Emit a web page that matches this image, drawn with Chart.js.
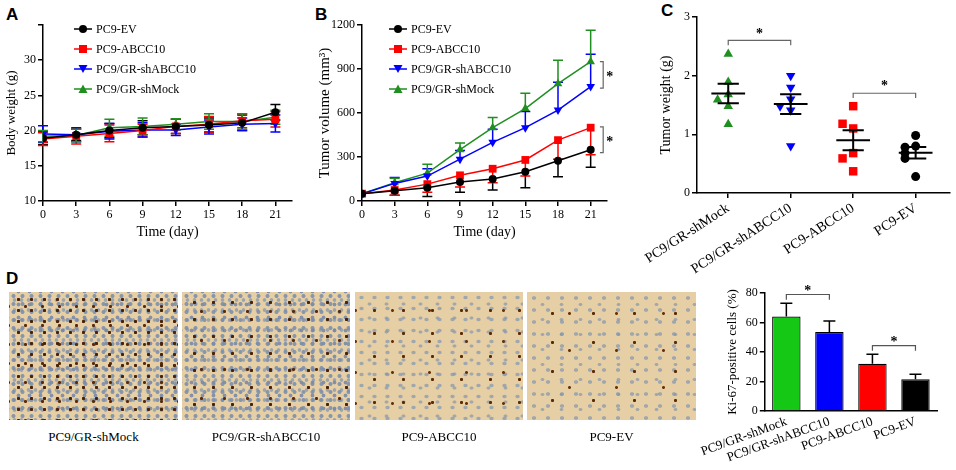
<!DOCTYPE html>
<html lang="en">
<head>
    <meta charset="UTF-8">
    <title>ABCC10 xenograft figure</title>
    <script src="https://cdn.jsdelivr.net/npm/chart.js"></script>
    <style>
        body {
            margin: 0;
            width: 956px;
            height: 470px;
            background: #fff;
            position: relative;
            overflow: hidden;
            font-family: 'Liberation Serif', 'Times New Roman', serif;
        }
        .panel { position: absolute; }
        .letter {
            position: absolute;
            font-family: 'Liberation Sans', Arial, sans-serif;
            font-weight: bold;
            font-size: 17px;
        }
        .legend {
            position: absolute;
            font-size: 12px;
            line-height: 20px;
        }
        .legend div { display: flex; align-items: center; height: 20px; }
        .legend svg { margin-right: 4px; }
        .micro {
            position: absolute;
            top: 292px;
            height: 128px;
            background-color: #e7cfa5;
        }
        .dense {
            background-image:
                radial-gradient(circle, #4a2208 1.3px, transparent 2px),
                radial-gradient(circle, #5a2a0a 1.2px, transparent 1.9px),
                radial-gradient(circle, rgba(120,140,170,.85) 1.6px, transparent 2.4px),
                radial-gradient(circle, rgba(110,130,165,.8) 1.5px, transparent 2.3px),
                radial-gradient(circle, rgba(125,145,175,.7) 1.4px, transparent 2.2px);
            background-size: 13px 11px, 17px 19px, 9px 8px, 11px 13px, 7px 10px;
            background-position: 3px 2px, 8px 5px, 0 0, 4px 6px, 2px 3px;
        }
        .sparse {
            background-image:
                radial-gradient(circle, #5a2a06 1.2px, transparent 2px),
                radial-gradient(circle, #6a3208 1.1px, transparent 1.8px),
                radial-gradient(ellipse, rgba(130,150,175,.7) 1.6px, transparent 2.6px),
                radial-gradient(ellipse, rgba(120,140,170,.6) 1.4px, transparent 2.4px);
            background-size: 29px 23px, 37px 31px, 13px 11px, 17px 14px;
            background-position: 5px 7px, 19px 3px, 0 0, 6px 5px;
        }
        .caption {
            position: absolute;
            top: 429px;
            font-size: 13px;
            text-align: center;
        }
    </style>
</head>
<body>
    <div class="letter" style="left:6px;top:5px">A</div>
    <div class="letter" style="left:315px;top:5px">B</div>
    <div class="letter" style="left:661px;top:1px">C</div>
    <div class="letter" style="left:6px;top:269px">D</div>

    <div class="panel" style="left:0;top:0;width:300px;height:245px"><canvas id="chartA"></canvas></div>
    <div class="panel" style="left:310px;top:0;width:310px;height:245px"><canvas id="chartB"></canvas></div>
    <div class="panel" style="left:630px;top:0;width:326px;height:285px"><canvas id="chartC"></canvas></div>
    <div class="panel" style="left:690px;top:270px;width:266px;height:200px"><canvas id="chartD"></canvas></div>

    <div class="legend" id="legendA" style="left:74px;top:19px"></div>
    <div class="legend" id="legendB" style="left:389px;top:19px"></div>

    <div class="micro dense" style="left:9px;width:169px"></div>
    <div class="micro dense" style="left:182px;width:168px;background-size:19px 17px,23px 29px,9px 8px,11px 13px,7px 10px"></div>
    <div class="micro sparse" style="left:355px;width:168px"></div>
    <div class="micro sparse" style="left:527px;width:169px;background-size:41px 29px,47px 37px,14px 12px,19px 15px"></div>
    <div class="caption" style="left:9px;width:169px">PC9/GR-shMock</div>
    <div class="caption" style="left:182px;width:168px">PC9/GR-shABCC10</div>
    <div class="caption" style="left:355px;width:168px">PC9-ABCC10</div>
    <div class="caption" style="left:527px;width:169px">PC9-EV</div>

    <script>
        // time axis, panels A and B
        const days = [0, 3, 6, 9, 12, 15, 18, 21];
        const seriesNames = ['PC9-EV', 'PC9-ABCC10', 'PC9/GR-shABCC10', 'PC9/GR-shMock'];

        // A: body weight (g), mean and SD
        const weightEV = [18.9, 19.4, 20.0, 20.4, 20.6, 20.8, 21.1, 22.6];
        const weightEVErr = [0.9, 0.8, 1.0, 1.0, 1.0, 1.0, 1.1, 1.1];
        const weightABCC10 = [18.8, 19.2, 19.6, 20.0, 20.6, 20.9, 21.4, 21.6];
        const weightABCC10Err = [0.9, 1.1, 1.2, 0.9, 1.0, 1.1, 1.0, 1.1];
        const weightShABCC10 = [19.5, 19.4, 19.9, 20.1, 20.1, 20.5, 20.9, 21.0];
        const weightShABCC10Err = [1.2, 1.0, 1.1, 1.0, 0.8, 1.0, 0.9, 1.2];
        const weightShMock = [19.2, 19.3, 20.4, 20.6, 20.9, 21.3, 21.3, 21.9];
        const weightShMockErr = [0.8, 0.9, 1.2, 1.2, 0.8, 1.1, 1.1, 1.0];

        // B: tumor volume (mm3)
        const volEV = [50, 70, 90, 130, 150, 200, 275, 350];
        const volEVErr = [0, 30, 60, 70, 75, 110, 110, 120];
        const volABCC10 = [50, 75, 115, 175, 220, 280, 415, 500];
        const volABCC10Err = [0, 35, 55, 80, 95, 110, 130, 185];
        const volShABCC10 = [50, 120, 170, 285, 400, 500, 620, 780];
        const volShABCC10Err = [0, 40, 50, 60, 90, 110, 190, 220];
        const volShMock = [50, 125, 190, 350, 500, 630, 800, 950];
        const volShMockErr = [0, 30, 60, 45, 70, 105, 160, 215];

        // C: tumor weight (g), one value per mouse
        const groupsC = ['PC9/GR-shMock', 'PC9/GR-shABCC10', 'PC9-ABCC10', 'PC9-EV'];
        const tumorShMock = [2.37, 1.89, 1.68, 1.59, 1.48, 1.17];
        const tumorShABCC10 = [2.0, 1.8, 1.6, 1.41, 1.48, 0.80];
        const tumorABCC10 = [1.48, 1.10, 1.18, 0.68, 0.59, 0.37];
        const tumorEV = [0.98, 0.80, 0.78, 0.68, 0.59, 0.28];

        // D: Ki-67 positive cells (%)
        const ki67 = [64, 53.5, 32, 21.5];
        const ki67Err = [9, 7.5, 6.5, 3.5];

        const serif = "'Liberation Serif', 'Times New Roman', serif";
        const GREEN = '#1f8f1f';
        const colors = ['#000000', '#ff0000', '#0000ff', GREEN];
        const shapes = ['circle', 'rect', 'triangle', 'triangle'];
        const rotations = [0, 0, 180, 0];
        const radii = { circle: 4, rect: 5.5, triangle: 5 };

        // error bars drawn through the y scale
        const errorBars = {
            id: 'errorBars',
            beforeDatasetsDraw(chart) {
                const ctx = chart.ctx;
                const yScale = chart.scales.y;
                chart.data.datasets.forEach((ds, i) => {
                    if (!ds.errors) return;
                    const meta = chart.getDatasetMeta(i);
                    meta.data.forEach((el, j) => {
                        const raw = ds.data[j];
                        const v = typeof raw === 'object' ? raw.y : raw;
                        const e = ds.errors[j];
                        if (!e) return;
                        const x = el.x;
                        const y0 = yScale.getPixelForValue(v);
                        const yHi = yScale.getPixelForValue(v + e);
                        const yLo = yScale.getPixelForValue(v - e);
                        const w = ds.capWidth || 5;
                        ctx.save();
                        ctx.strokeStyle = ds.errorColor || ds.borderColor;
                        ctx.lineWidth = 1.5;
                        ctx.beginPath();
                        ctx.moveTo(x, ds.errorDir === 'down' ? y0 : yHi);
                        ctx.lineTo(x, ds.errorDir === 'up' ? y0 : yLo);
                        if (ds.errorDir !== 'down') { ctx.moveTo(x - w, yHi); ctx.lineTo(x + w, yHi); }
                        if (ds.errorDir !== 'up') { ctx.moveTo(x - w, yLo); ctx.lineTo(x + w, yLo); }
                        ctx.stroke();
                        ctx.restore();
                    });
                });
            }
        };

        // significance brackets and stars, in data units
        const sigMarks = {
            id: 'sigMarks',
            afterDraw(chart, args, opts) {
                const ctx = chart.ctx;
                const xs = chart.scales.x, ys = chart.scales.y;
                ctx.save();
                ctx.strokeStyle = opts.color || '#555';
                ctx.lineWidth = 1.2;
                (opts.h || []).forEach(b => {
                    const x1 = xs.getPixelForValue(b.x1), x2 = xs.getPixelForValue(b.x2);
                    const y = ys.getPixelForValue(b.y), yd = ys.getPixelForValue(b.y - b.drop);
                    ctx.beginPath();
                    ctx.moveTo(x1, yd); ctx.lineTo(x1, y); ctx.lineTo(x2, y); ctx.lineTo(x2, yd);
                    ctx.stroke();
                });
                (opts.v || []).forEach(b => {
                    const x = xs.getPixelForValue(b.x), xt = xs.getPixelForValue(b.x - b.drop);
                    const y1 = ys.getPixelForValue(b.y1), y2 = ys.getPixelForValue(b.y2);
                    ctx.beginPath();
                    ctx.moveTo(xt, y1); ctx.lineTo(x, y1); ctx.lineTo(x, y2); ctx.lineTo(xt, y2);
                    ctx.stroke();
                });
                ctx.fillStyle = '#000';
                ctx.font = 'bold 14px ' + serif;
                ctx.textAlign = 'center';
                ctx.textBaseline = 'middle';
                (opts.stars || []).forEach(s => {
                    ctx.fillText('*', xs.getPixelForValue(s.x), ys.getPixelForValue(s.y) + 3);
                });
                ctx.restore();
            }
        };

        function axisBase(extra) {
            return Object.assign({
                grid: { drawOnChartArea: false, drawTicks: true, tickLength: 5, color: '#000', lineWidth: 1.5 },
                border: { color: '#000', width: 1.5 },
                ticks: { color: '#000', font: { family: serif, size: 12 }, padding: 2 }
            }, extra);
        }

        function buildLegend(id) {
            const box = document.getElementById(id);
            seriesNames.forEach((name, i) => {
                const c = colors[i];
                let mark = '';
                if (shapes[i] === 'circle') mark = `<circle cx="9" cy="6" r="4" fill="${c}"/>`;
                else if (shapes[i] === 'rect') mark = `<rect x="5" y="2" width="8" height="8" fill="${c}"/>`;
                else if (rotations[i] === 180) mark = `<polygon points="4.5,2 13.5,2 9,10" fill="${c}"/>`;
                else mark = `<polygon points="9,1.5 13.5,10 4.5,10" fill="${c}"/>`;
                const row = document.createElement('div');
                row.innerHTML = `<svg width="18" height="12"><line x1="0" y1="6" x2="18" y2="6" stroke="${c}" stroke-width="1.5"/>${mark}</svg>${name}`;
                box.appendChild(row);
            });
        }

        function timeChart(id, values, errs, errDir, yOpts, yTitle, titleSize, pad, yWidth, sig) {
            const datasets = seriesNames.map((name, i) => ({
                label: name,
                data: days.map((d, j) => ({ x: d, y: values[i][j] })),
                errors: errs[i],
                errorDir: errDir[i],
                capWidth: 5,
                borderColor: colors[i],
                backgroundColor: colors[i],
                borderWidth: 1.5,
                pointStyle: shapes[i],
                pointRotation: rotations[i],
                pointRadius: radii[shapes[i]],
                pointBorderWidth: 0,
                showLine: true,
                tension: 0
            }));
            new Chart(document.getElementById(id), {
                type: 'scatter',
                data: { datasets },
                options: {
                    responsive: true,
                    maintainAspectRatio: false,
                    animation: false,
                    layout: { padding: pad },
                    plugins: { legend: { display: false }, tooltip: { enabled: false }, sigMarks: sig },
                    scales: {
                        x: axisBase({
                            type: 'linear', min: 0, max: 22.5,
                            afterBuildTicks: s => { s.ticks = days.map(v => ({ value: v })); },
                            afterFit: s => { s.height = 44; },
                            title: { display: true, text: 'Time (day)', color: '#000', font: { family: serif, size: 14 }, padding: { top: 4 } }
                        }),
                        y: axisBase(Object.assign({
                            afterFit: s => { s.width = yWidth; },
                            title: { display: true, text: yTitle, color: '#000', font: { family: serif, size: titleSize }, padding: 0 }
                        }, yOpts))
                    }
                },
                plugins: [errorBars, sigMarks]
            });
        }

        buildLegend('legendA');
        buildLegend('legendB');

        timeChart('chartA',
            [weightEV, weightABCC10, weightShABCC10, weightShMock],
            [weightEVErr, weightABCC10Err, weightShABCC10Err, weightShMockErr],
            ['both', 'both', 'both', 'both'],
            {
                min: 10, max: 35,
                afterBuildTicks: s => { s.ticks = [10, 15, 20, 25, 30, 35].map(v => ({ value: v })); },
                ticks: { color: '#000', font: { family: serif, size: 12 }, padding: 2, callback: v => v === 35 ? '' : v }
            },
            'Body weight (g)', 13, { top: 25, right: 8, left: 4 }, 39, {});

        timeChart('chartB',
            [volEV, volABCC10, volShABCC10, volShMock],
            [volEVErr, volABCC10Err, volShABCC10Err, volShMockErr],
            ['down', 'down', 'up', 'up'],
            {
                min: 0, max: 1200,
                ticks: { color: '#000', font: { family: serif, size: 12 }, padding: 2, stepSize: 300, callback: v => String(v) }
            },
            'Tumor volume (mm\u00B3)', 15, { top: 25, right: 13, left: 6 }, 46,
            {
                color: '#666',
                v: [{ x: 22.15, drop: 0.3, y1: 950, y2: 770 }, { x: 22.15, drop: 0.3, y1: 505, y2: 330 }],
                stars: [{ x: 22.75, y: 860 }, { x: 22.75, y: 418 }]
            });

        // C: column scatter with mean +/- SEM
        const tumorGroups = [tumorShMock, tumorShABCC10, tumorABCC10, tumorEV];
        const colorsC = [GREEN, '#0000ff', '#ff0000', '#000000'];
        const shapesC = ['triangle', 'triangle', 'rect', 'circle'];
        const rotC = [0, 180, 0, 0];
        const radiiC = { circle: 4.5, rect: 6, triangle: 5.5 };

        function spread(vals, g) {
            // side-step dots that would overlap a dot already placed
            return vals.map((v, i) => {
                const hits = vals.slice(0, i).filter(w => Math.abs(w - v) < 0.105).length;
                const off = hits === 0 ? 0 : (hits % 2 ? -0.17 : 0.17);
                return { x: g + off, y: v };
            });
        }

        const statSegs = [];
        tumorGroups.forEach((vals, g) => {
            const n = vals.length;
            const m = vals.reduce((a, b) => a + b, 0) / n;
            const sd = Math.sqrt(vals.reduce((a, b) => a + (b - m) * (b - m), 0) / (n - 1));
            const se = sd / Math.sqrt(n);
            statSegs.push({ x: g - 0.27, y: m }, { x: g + 0.27, y: m }, { x: g, y: null });
            statSegs.push({ x: g - 0.17, y: m + se }, { x: g + 0.17, y: m + se }, { x: g, y: null });
            statSegs.push({ x: g - 0.17, y: m - se }, { x: g + 0.17, y: m - se }, { x: g, y: null });
            statSegs.push({ x: g, y: m - se }, { x: g, y: m + se }, { x: g, y: null });
        });

        new Chart(document.getElementById('chartC'), {
            type: 'scatter',
            data: {
                datasets: [{
                    data: statSegs,
                    showLine: true,
                    spanGaps: false,
                    borderColor: '#000',
                    borderWidth: 2,
                    pointRadius: 0
                }].concat(tumorGroups.map((vals, g) => ({
                    label: groupsC[g],
                    data: spread(vals, g),
                    backgroundColor: colorsC[g],
                    borderColor: colorsC[g],
                    pointStyle: shapesC[g],
                    pointRotation: rotC[g],
                    pointRadius: radiiC[shapesC[g]],
                    pointBorderWidth: 0
                })))
            },
            options: {
                responsive: true,
                maintainAspectRatio: false,
                animation: false,
                layout: { padding: { top: 17, right: 4, left: 28 } },
                plugins: {
                    legend: { display: false }, tooltip: { enabled: false },
                    sigMarks: {
                        color: '#666',
                        h: [{ x1: 0, x2: 1, y: 2.6, drop: 0.08 }, { x1: 2, x2: 3, y: 1.7, drop: 0.08 }],
                        stars: [{ x: 0.5, y: 2.76 }, { x: 2.5, y: 1.86 }]
                    }
                },
                scales: {
                    x: axisBase({
                        type: 'linear', min: -0.5, max: 3.55,
                        afterBuildTicks: s => { s.ticks = groupsC.map((n, i) => ({ value: i })); },
                        afterFit: s => { s.height = 92; },
                        ticks: {
                            color: '#000', font: { family: serif, size: 14 }, padding: 2,
                            minRotation: 33, maxRotation: 33, autoSkip: false,
                            callback: v => groupsC[v]
                        }
                    }),
                    y: axisBase({
                        min: 0, max: 3,
                        afterFit: s => { s.width = 39; },
                        ticks: { color: '#000', font: { family: serif, size: 12 }, padding: 2, stepSize: 1 },
                        title: { display: true, text: 'Tumor weight (g)', color: '#000', font: { family: serif, size: 14 }, padding: 0 }
                    })
                }
            },
            plugins: [sigMarks]
        });

        // D: Ki-67 bars
        new Chart(document.getElementById('chartD'), {
            type: 'bar',
            data: {
                labels: groupsC,
                datasets: [{
                    data: ki67,
                    errors: ki67Err,
                    errorDir: 'up',
                    capWidth: 6,
                    backgroundColor: ['#16c816', '#0000ff', '#ff0000', '#000000'],
                    borderColor: '#000',
                    borderWidth: 1.2,
                    categoryPercentage: 1,
                    barPercentage: 0.66
                }]
            },
            options: {
                responsive: true,
                maintainAspectRatio: false,
                animation: false,
                layout: { padding: { top: 23, right: 19, left: 28 } },
                plugins: {
                    legend: { display: false }, tooltip: { enabled: false },
                    sigMarks: {
                        color: '#555',
                        h: [{ x1: 0, x2: 1, y: 79, drop: 3.5 }, { x1: 2, x2: 3, y: 44.3, drop: 3.5 }],
                        stars: [{ x: 0.5, y: 83 }, { x: 2.5, y: 48.6 }]
                    }
                },
                scales: {
                    x: axisBase({
                        afterFit: s => { s.height = 59; },
                        grid: { drawOnChartArea: false, drawTicks: false, color: '#000' },
                        ticks: {
                            color: '#000', font: { family: serif, size: 13 }, padding: 3,
                            minRotation: 20, maxRotation: 20, autoSkip: false
                        }
                    }),
                    y: axisBase({
                        min: 0, max: 80,
                        afterFit: s => { s.width = 40; },
                        ticks: { color: '#000', font: { family: serif, size: 12 }, padding: 2, stepSize: 20 },
                        title: { display: true, text: 'Ki-67-positive cells (%)', color: '#000', font: { family: serif, size: 13 }, padding: 0 }
                    })
                }
            },
            plugins: [errorBars, sigMarks]
        });
    </script>
</body>
</html>
